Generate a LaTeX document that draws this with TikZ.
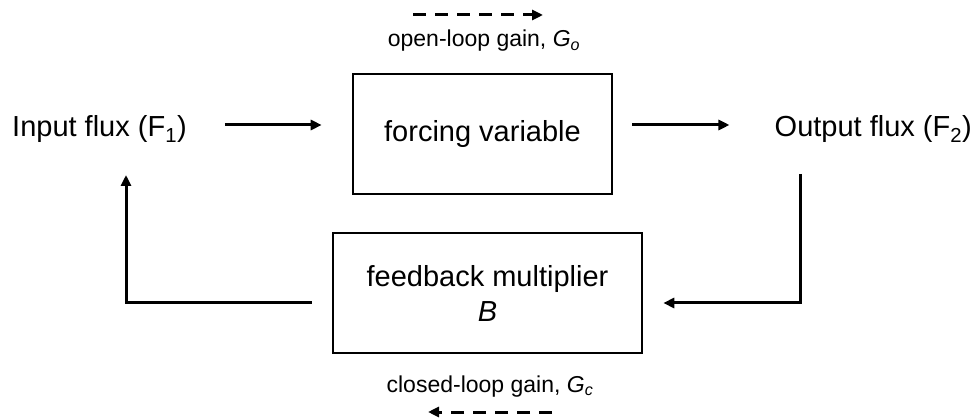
\documentclass[tikz,border=0pt]{standalone}
\usepackage{fontspec}
\setmainfont{Liberation Sans}
\usetikzlibrary{arrows.meta}

\begin{document}
\begin{tikzpicture}[x=1pt, y=-1pt,
        flux/.style={inner sep=0, font=\fontsize{29}{35}\selectfont},
        block/.style={draw, line width=2.6pt, align=center, font=\fontsize{29}{35}\selectfont},
        gain/.style={inner sep=0, font=\fontsize{23}{27}\selectfont},
        flow/.style={line width=3pt, -{Triangle[length=11pt, width=10pt]}},
        dflow/.style={flow, dash pattern=on 13pt off 9pt}]
        \useasboundingbox (0,0) rectangle (977,419);

        \node[flux, anchor=base west] (in) at (12,137) {Input flux (F\textsubscript{1})};
        \node[flux, anchor=base east] (out) at (972,137) {Output flux (F\textsubscript{2})};
        \node[block, minimum width=259, minimum height=120] (force) at (482.5,134) {forcing variable};
        \node[block, minimum width=309, minimum height=120] (fb) at (487.5,293) {feedback multiplier\\\textit{B}};

        \node[gain, anchor=base] (go) at (484,47) {open-loop gain, \textit{G}\textsubscript{\textit{o}}};
        \node[gain, anchor=base] (gc) at (490,392) {closed-loop gain, \textit{G}\textsubscript{\textit{c}}};

        \coordinate (fwd) at (0,125);
        \coordinate (back) at (0,303);
        \coordinate (tap) at (800,174);
        \coordinate (ret) at (126,175);
        \draw[flow, shorten <=38pt, shorten >=30pt] (in.east |- fwd) -- (force.west |- fwd);
        \draw[flow, shorten <=19pt, shorten >=45pt] (force.east |- fwd) -- (out.west |- fwd);
        \draw[flow, shorten >=20pt] (tap) |- (fb.east |- back);
        \draw[flow, shorten <=20pt] (fb.west |- back) -| (ret);

        \coordinate (gotail) at (413,15);
        \coordinate (gohead) at (543,15);
        \coordinate (gctail) at (552,412);
        \coordinate (gchead) at (428,412);
        \draw[dflow] (gotail) -- (gohead);
        \draw[dflow] (gctail) -- (gchead);
    \end{tikzpicture}
\end{document}
